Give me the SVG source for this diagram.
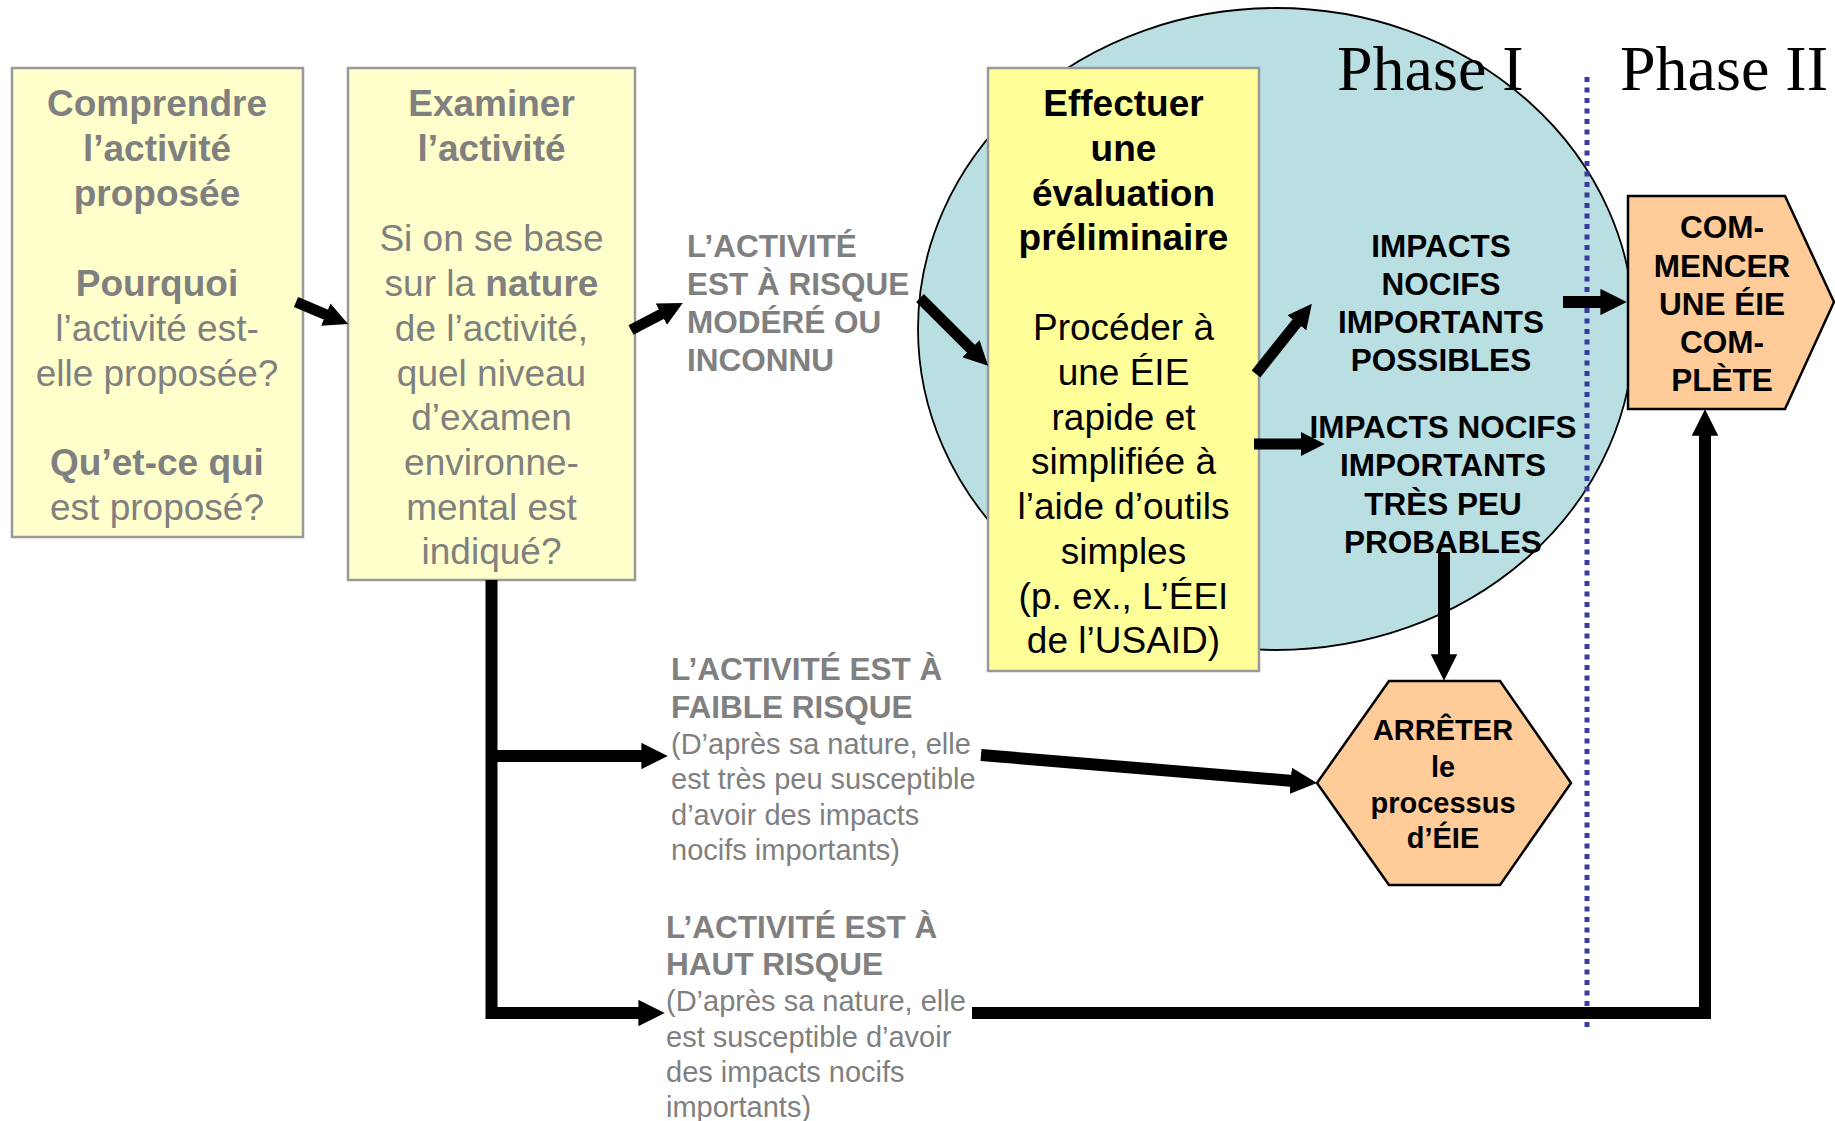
<svg xmlns="http://www.w3.org/2000/svg" width="1835" height="1121" viewBox="0 0 1835 1121">
<style>
.t{font-family:"Liberation Sans",Arial,sans-serif}
.g{fill:#808080}
.k{fill:#000}
.b{font-weight:bold}
.s37{font-size:37px}
.s32{font-size:31.5px}
.s29{font-size:29px}
.mid{text-anchor:middle}
.ph{font-family:"Liberation Serif","Times New Roman",serif;font-size:64px;fill:#000}
.box1{fill:#FFFFCC;stroke:#999;stroke-width:2.5}
.box3{fill:#FFFF99;stroke:#999;stroke-width:2.5}
.peach{fill:#FFCC99;stroke:#000;stroke-width:2.5}
.arr{fill:none;stroke:#000;marker-end:url(#ah)}
</style>
<defs>
<marker id="ah" viewBox="0 0 10 10" refX="1" refY="5" markerWidth="2.2" markerHeight="2.2" orient="auto" markerUnits="strokeWidth">
<path d="M0,0 L10,5 L0,10 z" fill="#000"/>
</marker>
</defs>
<rect width="1835" height="1121" fill="#fff"/>

<g id="phase1-circle">
<ellipse cx="1276" cy="329" rx="358" ry="321" fill="#B9DFE2" stroke="#000" stroke-width="1.8"/>
</g>

<g id="phase-labels">
<text class="ph" x="1337" y="90">Phase I</text>
<text class="ph" x="1620" y="90">Phase II</text>
<line x1="1587" y1="77" x2="1587" y2="1030" stroke="#3A3AA0" stroke-width="5" stroke-dasharray="5,5.5"/>
</g>

<g id="comprendre">
<rect class="box1" x="12" y="68" width="291" height="469"/>
<text class="t g s37 mid"><tspan class="b" x="157" y="116">Comprendre</tspan><tspan class="b" x="157" y="161">l’activité</tspan><tspan class="b" x="157" y="206">proposée</tspan><tspan class="b" x="157" y="296">Pourquoi</tspan><tspan x="157" y="341">l’activité est-</tspan><tspan x="157" y="386">elle proposée?</tspan><tspan class="b" x="157" y="475">Qu’et-ce qui</tspan><tspan x="157" y="520">est proposé?</tspan></text>
</g>

<g id="examiner">
<rect class="box1" x="348" y="68" width="287" height="512"/>
<text class="t g s37 mid"><tspan class="b" x="491.5" y="116">Examiner</tspan><tspan class="b" x="491.5" y="161">l’activité</tspan><tspan x="491.5" y="251">Si on se base</tspan><tspan x="491.5" y="296">sur la <tspan class="b">nature</tspan></tspan><tspan x="491.5" y="341">de l’activité,</tspan><tspan x="491.5" y="386">quel niveau</tspan><tspan x="491.5" y="430">d’examen</tspan><tspan x="491.5" y="475">environne-</tspan><tspan x="491.5" y="520">mental est</tspan><tspan x="491.5" y="564">indiqué?</tspan></text>
</g>

<g id="risque-modere">
<text class="t g b s32"><tspan x="687" y="257">L’ACTIVITÉ</tspan><tspan x="687" y="295">EST À RISQUE</tspan><tspan x="687" y="333">MODÉRÉ OU</tspan><tspan x="687" y="371">INCONNU</tspan></text>
</g>

<g id="evaluation">
<rect class="box3" x="988" y="68" width="271" height="603"/>
<text class="t k s37 mid"><tspan class="b" x="1123.5" y="116">Effectuer</tspan><tspan class="b" x="1123.5" y="161">une</tspan><tspan class="b" x="1123.5" y="206">évaluation</tspan><tspan class="b" x="1123.5" y="250">préliminaire</tspan><tspan x="1123.5" y="340">Procéder à</tspan><tspan x="1123.5" y="385">une ÉIE</tspan><tspan x="1123.5" y="430">rapide et</tspan><tspan x="1123.5" y="474">simplifiée à</tspan><tspan x="1123.5" y="519">l’aide d’outils</tspan><tspan x="1123.5" y="564">simples</tspan><tspan x="1123.5" y="609">(p. ex., L’ÉEI</tspan><tspan x="1123.5" y="653">de l’USAID)</tspan></text>
</g>

<g id="impacts-possibles">
<text class="t k b s32 mid"><tspan x="1441" y="257">IMPACTS</tspan><tspan x="1441" y="295">NOCIFS</tspan><tspan x="1441" y="333">IMPORTANTS</tspan><tspan x="1441" y="371">POSSIBLES</tspan></text>
</g>

<g id="impacts-improbables">
<text class="t k b s32 mid"><tspan x="1443" y="438">IMPACTS NOCIFS</tspan><tspan x="1443" y="476">IMPORTANTS</tspan><tspan x="1443" y="515">TRÈS PEU</tspan><tspan x="1443" y="553">PROBABLES</tspan></text>
</g>

<g id="commencer">
<polygon class="peach" points="1628,196 1785,196 1834,302 1785,409 1628,409"/>
<text class="t k b s32 mid"><tspan x="1722" y="238">COM-</tspan><tspan x="1722" y="277">MENCER</tspan><tspan x="1722" y="315">UNE ÉIE</tspan><tspan x="1722" y="353">COM-</tspan><tspan x="1722" y="391">PLÈTE</tspan></text>
</g>

<g id="arreter">
<polygon class="peach" points="1317,783 1389,681 1500,681 1571,783 1500,885 1389,885"/>
<text class="t k b s29 mid"><tspan x="1443" y="740">ARRÊTER</tspan><tspan x="1443" y="777">le</tspan><tspan x="1443" y="813">processus</tspan><tspan x="1443" y="848">d’ÉIE</tspan></text>
</g>

<g id="faible-risque">
<text class="t g"><tspan class="b s32" x="671" y="680">L’ACTIVITÉ EST À</tspan><tspan class="b s32" x="671" y="718">FAIBLE RISQUE</tspan><tspan class="s29" x="671" y="754">(D’après sa nature, elle</tspan><tspan class="s29" x="671" y="789">est très peu susceptible</tspan><tspan class="s29" x="671" y="825">d’avoir des impacts</tspan><tspan class="s29" x="671" y="860">nocifs importants)</tspan></text>
</g>

<g id="haut-risque">
<text class="t g"><tspan class="b s32" x="666" y="938">L’ACTIVITÉ EST À</tspan><tspan class="b s32" x="666" y="975">HAUT RISQUE</tspan><tspan class="s29" x="666" y="1011">(D’après sa nature, elle</tspan><tspan class="s29" x="666" y="1047">est susceptible d’avoir</tspan><tspan class="s29" x="666" y="1082">des impacts nocifs</tspan><tspan class="s29" x="666" y="1117">importants)</tspan></text>
</g>

<g id="connectors">
<path class="arr" stroke-width="11" d="M296,302 L328,315.5"/>
<path class="arr" stroke-width="11" d="M631,330 L663.5,313"/>
<path class="arr" stroke-width="11" d="M920,298 L972.7,350.5"/>
<path class="arr" stroke-width="11" d="M1256,374 L1298.3,320.9"/>
<path class="arr" stroke-width="11" d="M1254,444 L1303,444"/>
<path class="arr" stroke-width="12" d="M1563,302 L1603,302"/>
<path class="arr" stroke-width="12" d="M1444,552 L1444,657"/>
<path class="arr" stroke-width="12" d="M491.5,580 V1013 H641"/>
<path class="arr" stroke-width="12" d="M491.5,756 H644"/>
<path class="arr" stroke-width="12" d="M981,755 L1293.3,781"/>
<path class="arr" stroke-width="12" d="M972,1013 H1705 V433"/>
</g>
</svg>
